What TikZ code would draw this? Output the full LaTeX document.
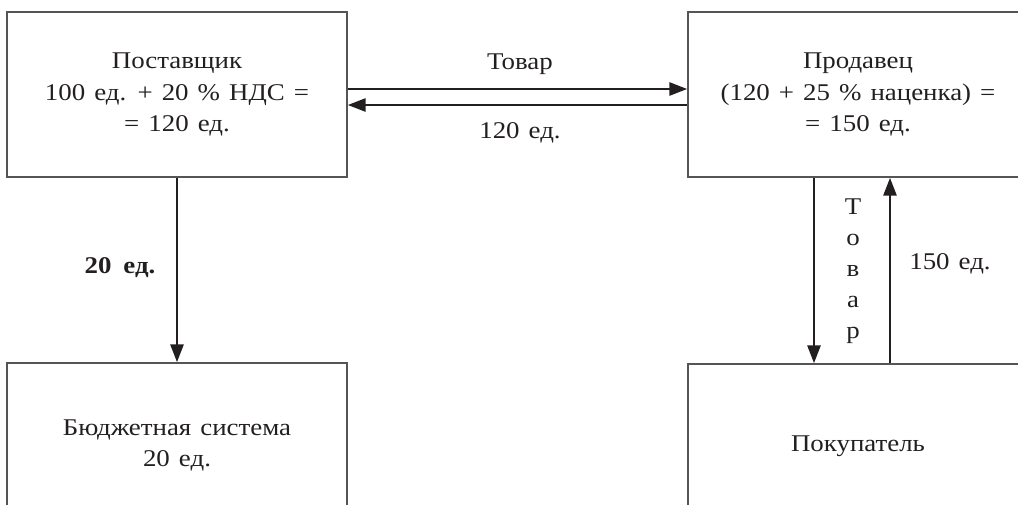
\documentclass[tikz,border=0pt]{standalone}
\usepackage{fontspec}
\setmainfont{Liberation Serif}[FakeStretch=1.12, WordSpace=1.35]
\usetikzlibrary{arrows.meta}
\definecolor{ink}{HTML}{231F20}
\definecolor{boxgray}{HTML}{555555}
\begin{document}
\begin{tikzpicture}[x=1pt,y=-1pt,
  box/.style={draw=boxgray, line width=1.4pt, minimum width=340pt, minimum height=165pt,
    inner sep=0pt, align=center, font=\fontsize{24}{31.5}\selectfont, text=ink},
  flow/.style={line width=2.8pt, draw=ink, -{Triangle[length=18pt,width=13pt]}},
  lbl/.style={font=\fontsize{24}{31}\selectfont, text=ink, inner sep=0pt, align=center}]
\useasboundingbox (0,0) rectangle (1018,504);
\clip (0,0) rectangle (1018,504);
\node[box] (sup) at (177,94.5) {Поставщик\\100 ед. + 20 \% НДС =\\= 120 ед.};
\node[box] (sel) at (858,94.5) {Продавец\\(120 + 25 \% наценка) =\\= 150 ед.};
\node[box] (bud) at (177,445.5) {Бюджетная система\\20 ед.};
\node[box] (buy) at (858,446.5) {Покупатель};
\draw[flow] (sup.east |- 0,89) -- (sel.west |- 0,89);
\draw[flow] (sel.west |- 0,105) -- (sup.east |- 0,105);
\draw[flow] (sup.south) -- (bud.north);
\draw[flow] (sel.south -| 814,0) -- (buy.north -| 814,0);
\draw[flow] (buy.north -| 890,0) -- (sel.south -| 890,0);
\node[lbl] (lgoods) at (520,64) {Товар};
\node[lbl] (lpay) at (520,133) {120 ед.};
\node[lbl, font=\fontsize{24}{31}\selectfont\bfseries] (ltax) at (120,268) {20\enspace ед.};
\node[lbl] (lgoods2) at (853,271) {Т\\о\\в\\а\\р};
\node[lbl] (lpay2) at (950,264) {150 ед.};
\end{tikzpicture}
\end{document}
